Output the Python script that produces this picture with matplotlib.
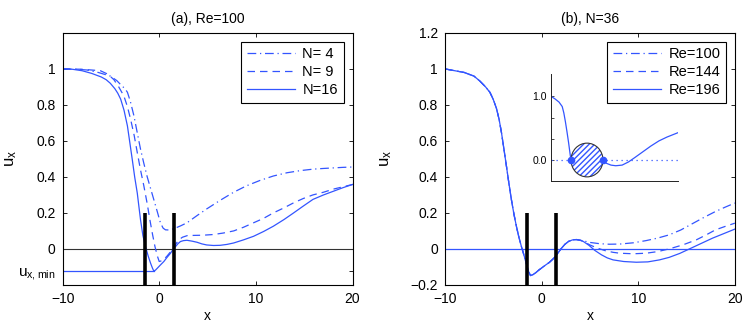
import numpy as np
import matplotlib
matplotlib.use("Agg")
import matplotlib.pyplot as plt
from matplotlib.patches import Ellipse

plt.rcParams["font.family"] = ["Liberation Sans", "DejaVu Sans"]
plt.rcParams["mathtext.default"] = "regular"
plt.rcParams["font.size"] = 10

# ---- data ----------------------------------------------------------------
# (a) Re=100, varying N
n4_x = [-10, -8.5, -7.5, -6.3, -5.07, -4.4, -3.86, -3.55, -3.3, -3.0, -2.63, -2.3,
        -1.94, -1.6, -1.25, -0.9, -0.57, -0.2, 0.12, 0.4, 0.64, 1.0, 1.5, 2.2, 2.86,
        3.9, 4.9, 6.3, 7.7, 9.0, 10.4, 11.8, 13.2, 14.6, 15.9, 17, 18, 19, 20]
n4_y = [1.0, 0.998, 0.994, 0.98, 0.96, 0.935, 0.905, 0.89, 0.87, 0.82, 0.74, 0.65,
        0.553, 0.475, 0.40, 0.335, 0.274, 0.205, 0.144, 0.115, 0.106, 0.105, 0.112,
        0.128, 0.145, 0.185, 0.222, 0.27, 0.315, 0.35, 0.38, 0.405, 0.423, 0.435,
        0.443, 0.447, 0.45, 0.453, 0.455]
n9_x = [-10, -8, -6.1, -5.3, -4.7, -4.2, -3.67, -3.3, -2.97, -2.6, -2.28, -1.95,
        -1.6, -1.25, -0.97, -0.7, -0.45, -0.2, -0.01, 0.3, 0.75, 1.1, 1.44, 1.75,
        2.0, 2.4, 2.9, 3.5, 4.5, 5.6, 6.6, 7.7, 8.7, 9.75, 10.8, 11.8, 12.9, 13.9,
        14.9, 15.9, 17, 18, 19, 20]
n9_y = [1.0, 0.998, 0.99, 0.97, 0.94, 0.9, 0.85, 0.79, 0.72, 0.63, 0.535, 0.44,
        0.35, 0.25, 0.16, 0.08, 0.013, -0.04, -0.07, -0.065, -0.043, -0.02, 0.004,
        0.03, 0.05, 0.065, 0.074, 0.075, 0.076, 0.08, 0.088, 0.10, 0.12, 0.145,
        0.17, 0.20, 0.228, 0.256, 0.28, 0.30, 0.315, 0.332, 0.345, 0.358]
n16_x = [-10, -9, -8, -7, -6, -5.5, -5.07, -4.6, -4.3, -4.0, -3.65, -3.3, -3.05,
         -2.8, -2.55, -2.28, -2.1, -1.94, -1.7, -1.43, -1.15, -0.9, -0.7, -0.57,
         -0.4, -0.22, 0.1, 0.47, 0.8, 1.16, 1.45, 1.68, 1.95, 2.19, 2.5, 2.86, 3.4,
         3.9, 4.4, 4.9, 5.6, 6.3, 7.0, 7.7, 8.7, 9.75, 10.8, 11.8, 12.9, 13.9, 14.9,
         15.9, 17, 18, 19, 20]
n16_y = [1.0, 0.998, 0.99, 0.975, 0.955, 0.94, 0.92, 0.89, 0.865, 0.832, 0.77, 0.683,
         0.59, 0.497, 0.40, 0.31, 0.23, 0.16, 0.075, 0.013, -0.04, -0.08, -0.108,
         -0.123, -0.118, -0.108, -0.09, -0.07, -0.047, -0.024, 0.0, 0.013, 0.03,
         0.041, 0.046, 0.048, 0.043, 0.037, 0.028, 0.022, 0.019, 0.02, 0.025, 0.033,
         0.05, 0.07, 0.097, 0.126, 0.163, 0.2, 0.238, 0.275, 0.30, 0.32, 0.34, 0.358]
ux_min = -0.123
ux_min_x = -0.57

# (b) N=36, varying Re (identical up to x~4)
common_x = [-10, -9, -8, -7, -6.4, -5.8, -5.35, -5.0, -4.67, -4.4, -4.15, -3.9, -3.64,
            -3.4, -3.13, -2.87, -2.61, -2.35, -2.1, -1.85, -1.6, -1.35, -1.15, -0.9,
            -0.6, -0.3, 0.0, 0.4, 0.8, 1.2, 1.6, 2.0, 2.4, 2.8, 3.2, 3.6, 4.0]
common_y = [1.0, 0.99, 0.98, 0.96, 0.933, 0.9, 0.87, 0.83, 0.78, 0.72, 0.645, 0.555,
            0.46, 0.37, 0.275, 0.195, 0.126, 0.065, 0.015, -0.03, -0.078, -0.125,
            -0.148, -0.143, -0.132, -0.118, -0.106, -0.09, -0.075, -0.055, -0.03, 0.0,
            0.025, 0.042, 0.05, 0.052, 0.048]
re100_x = [4.3, 5, 6, 7, 8.1, 9.5, 10.8, 12, 13.2, 14.4, 15.6, 16.8, 18.0, 19, 20]
re100_y = [0.045, 0.036, 0.029, 0.026, 0.027, 0.034, 0.046, 0.06, 0.078, 0.105, 0.14,
           0.175, 0.208, 0.232, 0.255]
re144_x = [4.4, 5.0, 5.8, 6.6, 7.4, 8.1, 9.5, 10.8, 12, 13.2, 14.6, 16.0, 17, 18.0, 19,
           20]
re144_y = [0.04, 0.022, 0.004, -0.01, -0.019, -0.024, -0.027, -0.024, -0.015, 0.0,
           0.022, 0.05, 0.077, 0.106, 0.125, 0.143]
re196_x = [4.3, 4.9, 5.5, 6.2, 6.8, 7.4, 8.5, 9.8, 11, 12.2, 13.2, 14.3, 15.3, 16.5,
           17.7, 18.9, 20]
re196_y = [0.042, 0.02, -0.008, -0.033, -0.05, -0.061, -0.07, -0.074, -0.072, -0.061,
           -0.047, -0.025, 0.0, 0.03, 0.06, 0.086, 0.11]

# inset sketch
ins_left_x = [-2.25, -2.0, -1.75, -1.55, -1.45, -1.35, -1.25, -1.15, -1.05, -1.0]
ins_left_y = [1.0, 0.96, 0.91, 0.84, 0.74, 0.6, 0.44, 0.27, 0.08, 0.0]
ins_right_x = [1.0, 1.2, 1.5, 1.8, 2.2, 2.6, 3.0, 3.5, 4.0, 4.5, 5.0, 5.7]
ins_right_y = [0.0, -0.05, -0.08, -0.09, -0.08, -0.03, 0.04, 0.13, 0.22, 0.30, 0.36,
               0.43]

blue = "#3355ff"
bar_x = [-1.5, 1.5]
dashdot = (0, (7, 3, 1, 3))
dashed = (0, (6, 4))


def style_axes(ax, label_x):
    ax.set_xlim(-10, 20)
    ax.set_ylim(-0.2, 1.2)
    ax.set_xticks([-10, 0, 10, 20])
    ax.set_xticklabels(["\u221210", "0", "10", "20"])
    ax.tick_params(direction="in", top=True, right=True, length=3, width=0.6,
                   labelsize=10, pad=5)
    for s in ax.spines.values():
        s.set_linewidth(0.8)
    ax.set_xlabel("x", labelpad=2)
    ax.set_ylabel("$u_x$", fontsize=12)
    ax.yaxis.set_label_coords(label_x, 0.5)


fig = plt.figure(figsize=(7.49, 3.29), dpi=100)

# ---- (a) -----------------------------------------------------------------
ax1 = fig.add_axes([0.0837, 0.134, 0.387, 0.766])
ax1.axhline(0, color="#333333", lw=0.8)
ax1.plot([-10, ux_min_x], [ux_min, ux_min], color=blue, lw=0.9)
l1, = ax1.plot(n4_x, n4_y, color=blue, lw=0.9, ls=dashdot)
l2, = ax1.plot(n9_x, n9_y, color=blue, lw=0.9, ls=dashed)
l3, = ax1.plot(n16_x, n16_y, color=blue, lw=0.9, ls="-")
for bx in bar_x:
    ax1.plot([bx, bx], [-0.2, 0.2], color="black", lw=2.6, solid_capstyle="butt")
style_axes(ax1, -0.15)
ax1.set_yticks([ux_min, 0, 0.2, 0.4, 0.6, 0.8, 1])
ax1.set_yticklabels(["$u_{x,min}$", "0", "0.2", "0.4", "0.6", "0.8", "1"])
ax1.get_yticklabels()[0].set_fontsize(11)
ax1.set_title("(a), Re=100", fontsize=10, pad=7)
leg1 = ax1.legend([l1, l2, l3], ["N= 4", "N= 9", "N=16"], loc="upper right",
                  fancybox=False, edgecolor="black", framealpha=1, handlelength=3.3,
                  borderaxespad=0.6, labelspacing=0.25, handletextpad=0.5,
                  fontsize=10.5)
leg1.get_frame().set_linewidth(0.8)

# ---- (b) -----------------------------------------------------------------
ax2 = fig.add_axes([0.5941, 0.134, 0.387, 0.766])
ax2.axhline(0, color=blue, lw=0.9)
cx, cy = common_x, common_y
m1, = ax2.plot(cx + re100_x, cy + re100_y, color=blue, lw=0.9, ls=dashdot)
m2, = ax2.plot(cx + re144_x, cy + re144_y, color=blue, lw=0.9, ls=dashed)
m3, = ax2.plot(cx + re196_x, cy + re196_y, color=blue, lw=0.9, ls="-")
for bx in bar_x:
    ax2.plot([bx, bx], [-0.2, 0.2], color="black", lw=2.6, solid_capstyle="butt")
style_axes(ax2, -0.175)
ax2.set_yticks([-0.2, 0, 0.2, 0.4, 0.6, 0.8, 1, 1.2])
ax2.set_yticklabels(["\u22120.2", "0", "0.2", "0.4", "0.6", "0.8", "1", "1.2"])
ax2.set_title("(b), N=36", fontsize=10, pad=7)
leg2 = ax2.legend([m1, m2, m3], ["Re=100", "Re=144", "Re=196"], loc="upper right",
                  fancybox=False, edgecolor="black", framealpha=1, handlelength=3.3,
                  borderaxespad=0.6, labelspacing=0.25, handletextpad=0.5,
                  fontsize=10.5)
leg2.get_frame().set_linewidth(0.8)

# ---- inset ---------------------------------------------------------------
ax3 = fig.add_axes([0.7357, 0.4498, 0.1696, 0.325])
ax3.set_xlim(-2.25, 5.7)
ax3.set_ylim(-0.33, 1.35)
ax3.patch.set_alpha(0)
ax3.spines["top"].set_visible(False)
ax3.spines["right"].set_visible(False)
for s in ("left", "bottom"):
    ax3.spines[s].set_linewidth(0.7)
    ax3.spines[s].set_color("#222222")
ax3.set_xticks([])
ax3.set_yticks([0, 1 / 3, 2 / 3, 1.0])
ax3.set_yticklabels(["0.0", "", "", "1.0"])
ax3.tick_params(direction="in", length=2, width=0.5, labelsize=7.5, pad=3)
ax3.plot([-2.25, 5.7], [0, 0], color=blue, lw=0.9, ls=(0, (1, 3)))
ax3.plot(ins_left_x, ins_left_y, color=blue, lw=0.9)
ax3.plot(ins_right_x, ins_right_y, color=blue, lw=0.9)
# hatched disc (hatch takes the edge colour), then a dark outline on top
ax3.add_patch(Ellipse((0, 0), 2.0, 0.53, facecolor="white", edgecolor=blue,
                      hatch="//////", lw=0, zorder=3))
ax3.add_patch(Ellipse((0, 0), 2.0, 0.53, facecolor="none", edgecolor="#333333",
                      lw=0.8, zorder=3.5))
ax3.plot([-1, 1], [0, 0], "o", color=blue, ms=4.5, zorder=4)

fig.savefig("out.png", dpi=100)
